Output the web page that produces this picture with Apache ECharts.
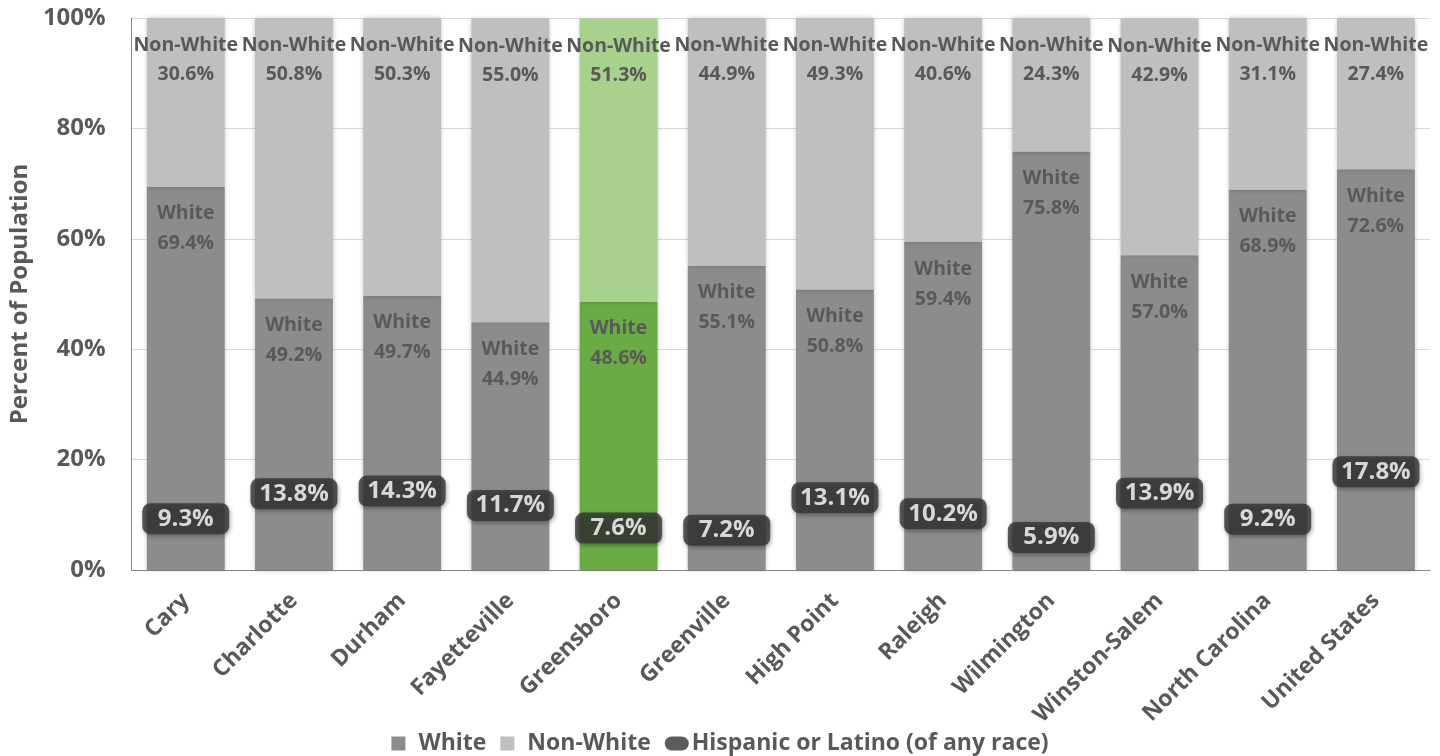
<!DOCTYPE html>
<html>
<head>
<meta charset="utf-8">
<script src="https://cdn.jsdelivr.net/npm/echarts@6/dist/echarts.min.js"></script>
<style>
  html, body { margin: 0; padding: 0; background: #fff; }
  #chart { width: 1440px; height: 756px; }
</style>
</head>
<body>
<div id="chart"></div>
<script>
// Population by race, percent of total
const categories = ['Cary', 'Charlotte', 'Durham', 'Fayetteville', 'Greensboro', 'Greenville',
  'High Point', 'Raleigh', 'Wilmington', 'Winston-Salem', 'North Carolina', 'United States'];
const whitePct    = [69.4, 49.2, 49.7, 44.9, 48.6, 55.1, 50.8, 59.4, 75.8, 57.0, 68.9, 72.6];
const nonWhitePct = [30.6, 50.8, 50.3, 55.0, 51.3, 44.9, 49.3, 40.6, 24.3, 42.9, 31.1, 27.4];
const hispanicPct = [9.3, 13.8, 14.3, 11.7, 7.6, 7.2, 13.1, 10.2, 5.9, 13.9, 9.2, 17.8];
const yTicks = [0, 20, 40, 60, 80, 100];

const highlight = 'Greensboro';
const FONT = '"Open Sans"';
const TEXT = '#595959';

const barShadow = { shadowBlur: 5, shadowColor: 'rgba(0,0,0,0.25)' };

// Legend icons share one box size; the square icons carry an empty corner point
// so they keep a square shape next to the wider pill-shaped icon.
const squareIcon = 'path://M0,0H14V14H0Z M24,14L24,14';
const pillIcon = 'path://M7,0H17A7,7,0,0,1,17,14H7A7,7,0,0,1,7,0Z';

function barData(values, base, hi) {
  return values.map((v, i) => ({
    value: v,
    itemStyle: Object.assign({ color: categories[i] === highlight ? hi : base }, barShadow)
  }));
}

const chart = echarts.init(document.getElementById('chart'));
chart.setOption({
  animation: false,
  textStyle: { fontFamily: FONT },
  grid: { left: 128, right: 10, top: 18, bottom: 186 },
  legend: {
    top: 727,
    left: 'center',
    itemWidth: 24,
    itemHeight: 14,
    itemGap: 14,
    textStyle: { fontFamily: FONT, fontSize: 23, fontWeight: 'bold', color: TEXT, padding: [0, 0, 0, -2] },
    data: [
      { name: 'White', icon: squareIcon, itemStyle: { color: '#8c8c8c' } },
      { name: 'Non-White', icon: squareIcon, itemStyle: { color: '#bfbfbf' } },
      { name: 'Hispanic or Latino (of any race)', icon: pillIcon, itemStyle: { color: '#333333' } }
    ]
  },
  xAxis: {
    type: 'category',
    data: categories,
    axisLine: { lineStyle: { color: '#868686' } },
    axisTick: { show: false },
    axisLabel: {
      rotate: 45, margin: 27, interval: 0,
      fontFamily: FONT, fontSize: 23, fontWeight: 'bold', color: TEXT
    }
  },
  yAxis: {
    type: 'value',
    min: yTicks[0], max: yTicks[yTicks.length - 1], interval: 20,
    name: 'Percent of Population',
    nameLocation: 'middle',
    nameGap: 96,
    nameRotate: 90,
    nameTextStyle: { fontFamily: FONT, fontSize: 24, fontWeight: 'bold', color: TEXT },
    axisLine: { show: true, lineStyle: { color: '#868686' } },
    axisTick: { show: false },
    splitLine: { lineStyle: { color: '#d9d9d9' } },
    axisLabel: {
      margin: 26, fontFamily: FONT, fontSize: 24, fontWeight: 'bold', color: TEXT,
      formatter: v => v + '%'
    }
  },
  series: [
    {
      name: 'White',
      type: 'bar',
      stack: 'race',
      barWidth: '72%',
      itemStyle: { color: '#8c8c8c' },
      data: barData(whitePct, '#8c8c8c', '#6aab46'),
      label: {
        show: true, position: 'insideTop', distance: 12,
        fontFamily: FONT, fontSize: 19.5, fontWeight: 'bold', color: TEXT, lineHeight: 30,
        formatter: p => 'White\n' + p.value.toFixed(1) + '%'
      }
    },
    {
      name: 'Non-White',
      type: 'bar',
      stack: 'race',
      barWidth: '72%',
      itemStyle: { color: '#bfbfbf' },
      data: barData(nonWhitePct, '#bfbfbf', '#a9d18e'),
      label: {
        show: true, position: 'insideTop', distance: 13,
        fontFamily: FONT, fontSize: 19.5, fontWeight: 'bold', color: TEXT, lineHeight: 29,
        formatter: p => 'Non-White\n' + p.value.toFixed(1) + '%'
      }
    },
    {
      name: 'Hispanic or Latino (of any race)',
      type: 'scatter',
      symbolSize: 0,
      itemStyle: { color: '#333333' },
      data: hispanicPct,
      z: 5,
      label: {
        show: true, position: 'inside',
        fontFamily: FONT, fontSize: 24, fontWeight: 'bold', color: '#ffffff',
        backgroundColor: '#333333', borderRadius: 8,
        width: 87, align: 'center',
        padding: 0, lineHeight: 31,
        shadowBlur: 4, shadowColor: 'rgba(0,0,0,0.4)', shadowOffsetX: 1, shadowOffsetY: 2,
        formatter: p => p.value.toFixed(1) + '%'
      }
    }
  ]
});
</script>
</body>
</html>
